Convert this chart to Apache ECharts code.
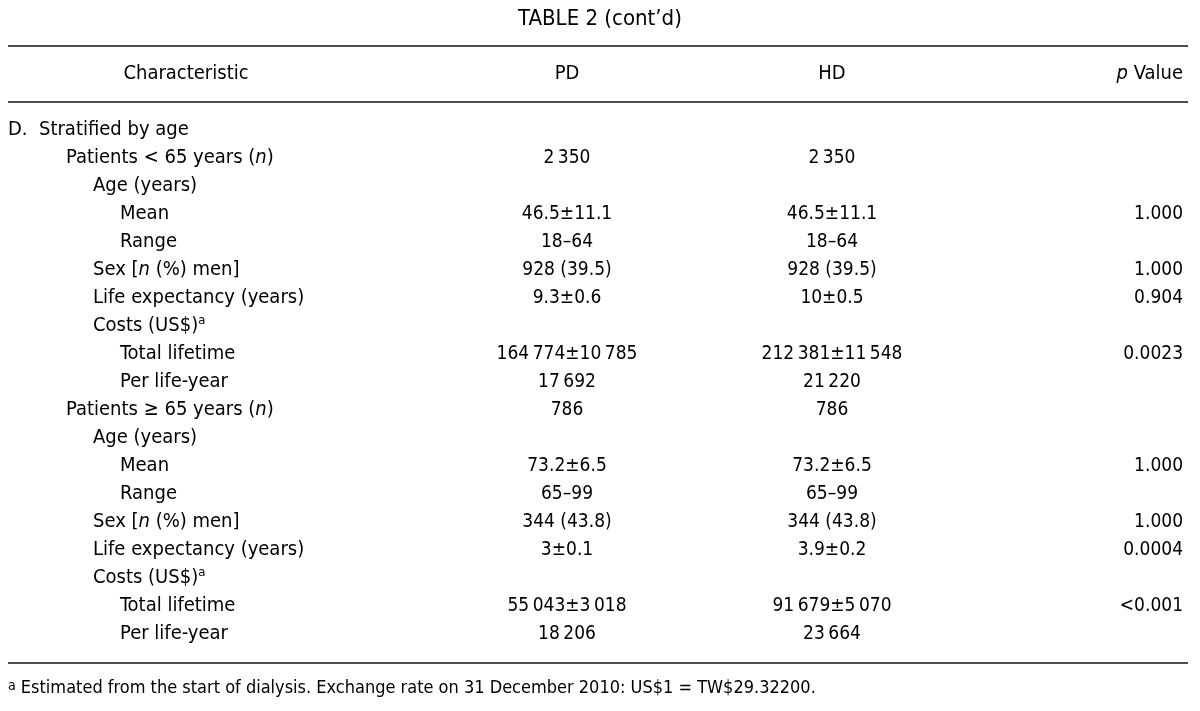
<!DOCTYPE html>
<html><head><meta charset="utf-8">
<script src="https://cdn.jsdelivr.net/npm/echarts@6/dist/echarts.min.js"></script>
<style>html,body{margin:0;padding:0;background:#fff}#c{width:1200px;height:711px}</style>
</head><body><div id="c"></div>
<script>
// ---- data ----
const tableTitle = 'TABLE 2 (cont’d)';
const headers = ['Characteristic', 'PD', 'HD', '{i|p} Value'];
const rowLabels = [
  'D.  Stratified by age',
  'Patients < 65 years ({i|n})',
  'Age (years)',
  'Mean',
  'Range',
  'Sex [{i|n} (%) men]',
  'Life expectancy (years)',
  'Costs (US$){sup|a}',
  'Total lifetime',
  'Per life-year',
  'Patients ≥ 65 years ({i|n})',
  'Age (years)',
  'Mean',
  'Range',
  'Sex [{i|n} (%) men]',
  'Life expectancy (years)',
  'Costs (US$){sup|a}',
  'Total lifetime',
  'Per life-year'
];
const rowLevels = [0, 1, 2, 3, 3, 2, 2, 2, 3, 3, 1, 2, 3, 3, 2, 2, 2, 3, 3];
const pdValues = ['', '2\u2009350', '', '46.5±11.1', '18–64', '928 (39.5)', '9.3±0.6', '', '164\u2009774±10\u2009785', '17\u2009692',
  '786', '', '73.2±6.5', '65–99', '344 (43.8)', '3±0.1', '', '55\u2009043±3\u2009018', '18\u2009206'];
const hdValues = ['', '2\u2009350', '', '46.5±11.1', '18–64', '928 (39.5)', '10±0.5', '', '212\u2009381±11\u2009548', '21\u2009220',
  '786', '', '73.2±6.5', '65–99', '344 (43.8)', '3.9±0.2', '', '91\u2009679±5\u2009070', '23\u2009664'];
const pValues = ['', '', '', '1.000', '', '1.000', '0.904', '', '0.0023', '',
  '', '', '1.000', '', '1.000', '0.0004', '', '<0.001', ''];
const footnote = '{fsup|a} Estimated from the start of dialysis. Exchange rate on 31 December 2010: US$1 = TW$29.32200.';

// ---- layout / style ----
const FONT = '"DejaVu Sans Condensed", "Liberation Sans Narrow", sans-serif';
const FS = 20;       // row labels / headers
const FS_VAL = 19;   // numeric columns
const FS_TITLE = 22;
const FS_NOTE = 18;
const COLOR = '#000';
const indentX = [8, 66, 93, 120];
const colX = { label: 186, pd: 567, hd: 832, p: 1183 };
const makeRich = fs => ({
  i: { fontStyle: 'italic', fontFamily: FONT, fontSize: fs, color: COLOR, lineHeight: 24 },
  sup: { fontFamily: FONT, fontSize: 13, color: COLOR, lineHeight: 13, verticalAlign: 'top' },
  fsup: { fontFamily: FONT, fontSize: 14, color: COLOR, lineHeight: 14, verticalAlign: 'top' }
});

const chart = echarts.init(document.getElementById('c'), null, { renderer: 'canvas' });
const rowIdx = rowLabels.map((_, i) => String(i));

function textSeries(name, items, align, fs) {
  return {
    name, type: 'scatter', symbolSize: 0.1, silent: true,
    itemStyle: { color: 'transparent', opacity: 1 },
    emphasis: { disabled: true },
    data: items,
    label: {
      show: true, position: 'inside', align, verticalAlign: 'middle', opacity: 1,
      fontFamily: FONT, fontSize: fs, color: COLOR, lineHeight: 24,
      formatter: p => p.name, rich: makeRich(fs)
    }
  };
}

const labelItems = rowLabels.map((t, i) => ({ name: t, value: [indentX[rowLevels[i]], rowIdx[i]] }));
const colItems = (vals, x) => vals.map((t, i) => ({ name: t, value: [x, rowIdx[i]] })).filter(d => d.name !== '');

const line = y => ({ type: 'line', shape: { x1: 8, y1: y, x2: 1188, y2: y }, style: { stroke: '#111', lineWidth: 1.5 } });
const gtext = (text, x, y, align, fs) => ({
  type: 'text', x, y,
  style: { text, fill: COLOR, font: fs + 'px ' + FONT, align, verticalAlign: 'middle', rich: makeRich(fs) }
});

chart.setOption({
  animation: false,
  backgroundColor: '#fff',
  grid: { left: 0, right: 0, top: 116, bottom: 63 },
  xAxis: { type: 'value', min: 0, max: 1200, show: false },
  yAxis: { type: 'category', data: rowIdx, inverse: true, show: false },
  series: [
    textSeries('labels', labelItems, 'left', FS),
    textSeries('PD', colItems(pdValues, colX.pd), 'center', FS_VAL),
    textSeries('HD', colItems(hdValues, colX.hd), 'center', FS_VAL),
    textSeries('p', colItems(pValues, colX.p), 'right', FS_VAL)
  ],
  graphic: [
    gtext(tableTitle, 600, 19, 'center', FS_TITLE),
    line(46),
    gtext(headers[0], colX.label, 74, 'center', FS),
    gtext(headers[1], colX.pd, 74, 'center', FS),
    gtext(headers[2], colX.hd, 74, 'center', FS),
    gtext(headers[3], colX.p, 74, 'right', FS),
    line(102),
    line(663),
    gtext(footnote, 8, 688, 'left', FS_NOTE)
  ]
});
</script></body></html>
